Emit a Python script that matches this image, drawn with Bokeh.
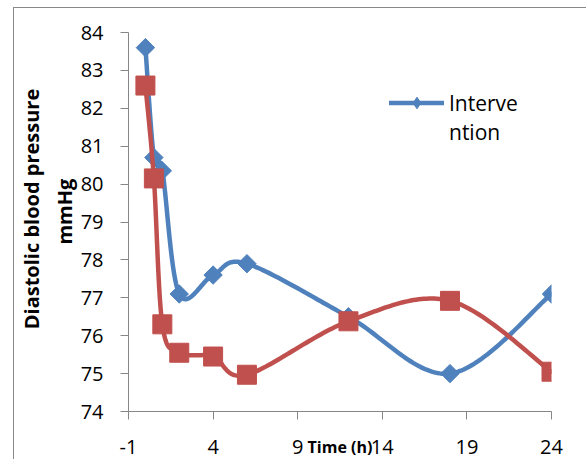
import numpy as np
from bokeh.plotting import figure
from bokeh.models import (FixedTicker, Legend, LegendItem, Range1d, LinearAxis)
from bokeh.embed import file_html
from bokeh.resources import INLINE

# ---- data ----
time_h = [0, 0.5, 1, 2, 4, 6, 12, 18, 24]
intervention = [83.6, 80.7, 80.35, 77.1, 77.6, 77.9, 76.5, 75.0, 77.1]
control = [82.6, 80.15, 76.3, 75.55, 75.45, 74.97, 76.38, 76.92, 75.05]
x_ticks = [-1, 4, 9, 14, 19, 24]
y_ticks = [74, 75, 76, 77, 78, 79, 80, 81, 82, 83, 84]
series_label = ["Interve", "ntion"]
y_title = ["Diastolic blood pressure", "mmHg"]
x_title = "Time (h)"

BLUE = "#4F81BD"
RED = "#C0504D"
FONT = "Open Sans"
NBSP = "\u00a0"


def smooth(xs, ys, n=40):
    """Excel-like smoothed line (Catmull-Rom Bezier) through the data points."""
    P = np.column_stack([np.asarray(xs, float), np.asarray(ys, float)])
    out = []
    m = len(P)
    t = np.linspace(0, 1, n)[:, None]
    for i in range(m - 1):
        p0 = P[i - 1] if i > 0 else P[i]
        p1 = P[i]
        p2 = P[i + 1]
        p3 = P[i + 2] if i + 2 < m else P[i + 1]
        c1 = p1 + (p2 - p0) / 6.0
        c2 = p2 - (p3 - p1) / 6.0
        seg = ((1 - t) ** 3) * p1 + 3 * ((1 - t) ** 2) * t * c1 + 3 * (1 - t) * t ** 2 * c2 + t ** 3 * p2
        out.append(seg if i == 0 else seg[1:])
    s = np.vstack(out)
    return s[:, 0], s[:, 1]


p = figure(width=573, height=452, output_backend="svg", toolbar_location=None,
           x_range=Range1d(-1, 24), y_range=Range1d(74, 84),
           min_border_left=110, min_border_right=36, min_border_top=24, min_border_bottom=48,
           margin=(7, 0, 0, 13))
p.styles = {"border-left": "1px solid #898989", "border-top": "1px solid #898989",
            "box-sizing": "border-box"}
p.outline_line_color = None
p.xgrid.visible = False
p.ygrid.visible = False

for ax in (p.xaxis[0], p.yaxis[0]):
    ax.axis_line_color = "#868686"
    ax.major_tick_line_color = "#868686"
    ax.minor_tick_line_color = None
    ax.major_tick_out = 8
    ax.major_tick_in = 0
    ax.major_label_text_font = FONT
    ax.major_label_text_font_size = "20px"
    ax.major_label_text_color = "#000000"

xa = p.xaxis[0]
xa.ticker = FixedTicker(ticks=x_ticks)
xa.major_label_overrides = {-1: "-1"}
xa.major_label_standoff = 20
xa.axis_label = x_title
xa.axis_label_text_font = FONT
xa.axis_label_text_font_style = "bold"
xa.axis_label_text_font_size = "16px"
xa.axis_label_text_color = "#000000"
xa.axis_label_standoff = -21

ya = p.yaxis[0]
ya.ticker = FixedTicker(ticks=y_ticks)
ya.major_label_standoff = 17


def title_axis(text, pad, standoff):
    return LinearAxis(ticker=FixedTicker(ticks=[]), axis_line_color=None,
                      major_tick_out=0, major_tick_in=0, minor_tick_out=0, minor_tick_in=0,
                      major_label_standoff=0,
                      axis_label=NBSP * pad + text, axis_label_standoff=standoff,
                      axis_label_text_font=FONT, axis_label_text_font_style="bold",
                      axis_label_text_font_size="20px", axis_label_text_color="#000000")


p.add_layout(title_axis(y_title[1], 4, 0), "left")
p.add_layout(title_axis(y_title[0], 5, 3), "left")

bx, by = smooth(time_h, intervention)
rx, ry = smooth(time_h, control)

l_blue = p.line(bx, by, line_color=BLUE, line_width=4.5, line_join="round", line_cap="round")
p.scatter(time_h, intervention, marker="square", angle=np.pi / 4, size=13,
          fill_color=BLUE, line_color=BLUE)
l_red = p.line(rx, ry, line_color=RED, line_width=4.5, line_join="round", line_cap="round")
p.scatter(time_h, control, marker="square", size=19, fill_color=RED, line_color=RED)

# legend-only marker (no visible data)
leg_marker = p.scatter([np.nan], [np.nan], marker="diamond", fill_color=BLUE, line_color=BLUE)

legend = Legend(items=[LegendItem(label=series_label[0], renderers=[l_blue, leg_marker]),
                       LegendItem(label=series_label[1], renderers=[])],
                location=(261, 265), border_line_color=None, background_fill_alpha=0,
                label_text_font=FONT, label_text_font_size="21px", label_text_color="#000000",
                glyph_width=55, glyph_height=29, label_height=20, spacing=0,
                label_standoff=5, padding=0, margin=0)
p.add_layout(legend, "center")

open("out.html", "w").write(file_html(p, INLINE))
